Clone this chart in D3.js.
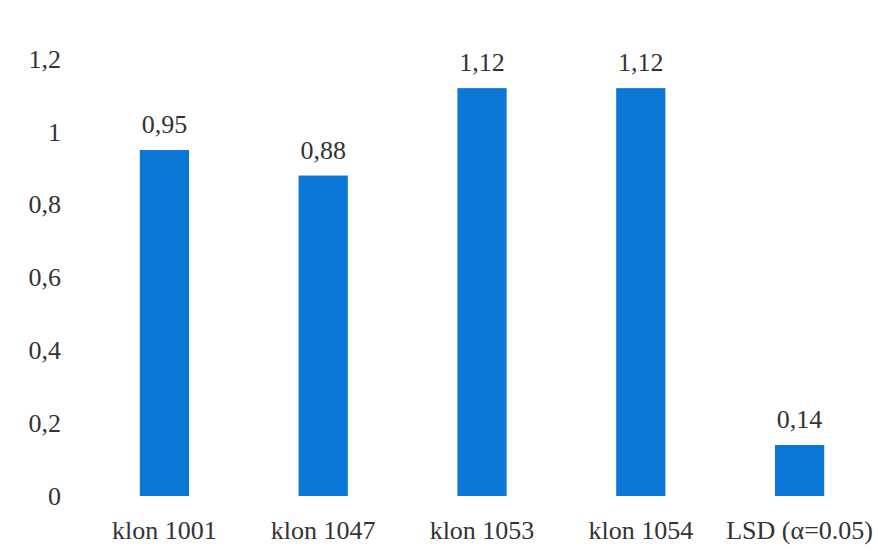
<!DOCTYPE html>
<html><head><meta charset="utf-8">
<script src="https://cdn.jsdelivr.net/npm/d3@7/dist/d3.min.js"></script>
<style>body{margin:0;background:#fff}svg{display:block}text{font-family:"Liberation Serif","Times New Roman",serif;fill:#333}</style>
</head><body><svg id="c" width="878" height="555"></svg>
<script>
const categories = ["klon 1001", "klon 1047", "klon 1053", "klon 1054", "LSD (\u03b1=0.05)"];
const values = [0.95, 0.88, 1.12, 1.12, 0.14];
const valueLabels = ["0,95", "0,88", "1,12", "1,12", "0,14"];
const yTicks = [0, 0.2, 0.4, 0.6, 0.8, 1, 1.2];
const yTickLabels = ["0", "0,2", "0,4", "0,6", "0,8", "1", "1,2"];

const svg = d3.select("#c");
const x = d3.scaleBand().domain(categories).range([85, 879]).paddingInner(0.69).paddingOuter(0.345);
const y = d3.scaleLinear().domain([0, 1.2]).range([496, 59]);

const yAxis = d3.axisLeft(y).tickValues(yTicks).tickFormat((d, i) => yTickLabels[i]).tickSize(0).tickPadding(0);
const ya = svg.append("g").attr("transform", "translate(61,0)").call(yAxis);
ya.select(".domain").remove();
ya.selectAll("text").style("font-size", "26px").attr("fill", "#333").style("font-family", "Liberation Serif");

const xAxis = d3.axisBottom(x).tickSize(0).tickPadding(0);
const xa = svg.append("g").attr("transform", "translate(0,521)").call(xAxis);
xa.select(".domain").remove();
xa.selectAll("text").style("font-size", "26px").attr("fill", "#333").style("font-family", "Liberation Serif");

svg.selectAll("rect.bar").data(values).enter().append("rect")
  .attr("class", "bar")
  .attr("x", (d, i) => x(categories[i]))
  .attr("width", x.bandwidth())
  .attr("y", d => y(d))
  .attr("height", d => y(0) - y(d))
  .attr("fill", "#0b78d8");

svg.selectAll("text.val").data(values).enter().append("text")
  .attr("class", "val")
  .attr("x", (d, i) => x(categories[i]) + x.bandwidth() / 2)
  .attr("y", d => y(d) - 17)
  .attr("text-anchor", "middle")
  .style("font-size", "26px")
  .text((d, i) => valueLabels[i]);
</script></body></html>
